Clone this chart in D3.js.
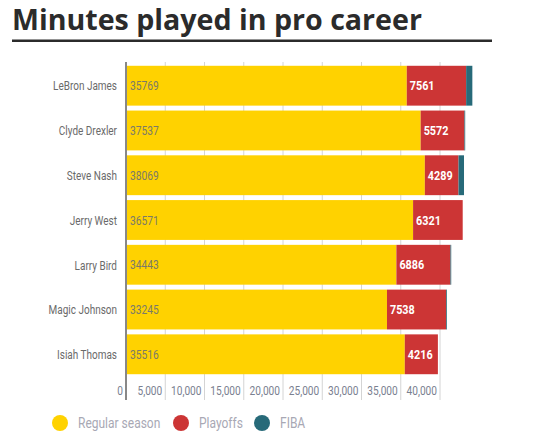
<!DOCTYPE html>
<html>
<head>
<meta charset="utf-8">
<script src="https://cdn.jsdelivr.net/npm/d3@7"></script>
<style>
  body { margin: 0; background: #fff; }
  .narrow { font-family: "Roboto", "Liberation Sans", sans-serif; }
</style>
</head>
<body>
<svg id="main-chart"></svg>
<script>
const players = ["LeBron James", "Clyde Drexler", "Steve Nash", "Jerry West", "Larry Bird", "Magic Johnson", "Isiah Thomas"];
const regularSeason = [35769, 37537, 38069, 36571, 34443, 33245, 35516];
const playoffs = [7561, 5572, 4289, 6321, 6886, 7538, 4216];
const fiba = [790, 100, 700, 0, 100, 100, 0];
const seriesNames = ["Regular season", "Playoffs", "FIBA"];
const seriesColors = ["#ffd200", "#cc3535", "#276a79"];
const xTicks = [0, 5000, 10000, 15000, 20000, 25000, 30000, 35000, 40000];

const width = 555, height = 440;
const rows = players.map((p, i) => ({name: p, "Regular season": regularSeason[i], "Playoffs": playoffs[i], "FIBA": fiba[i]}));

// no narrow font installed, so squeeze the glyphs horizontally
const narrow = (px, py, k) => `translate(${px},${py}) scale(${k},1)`;

const svg = d3.select("#main-chart")
    .attr("width", width)
    .attr("height", height);

// title
const title = svg.append("text")
    .attr("x", 12)
    .attr("y", 30)
    .attr("font-family", "Open Sans, sans-serif")
    .attr("font-weight", "bold")
    .attr("font-size", 34)
    .attr("fill", "#2b2b2b")
    .text("Minutes played in pro career");
const tw = title.node().getComputedTextLength();
title.attr("font-size", 34 * 410 / tw);

svg.append("rect")
    .attr("x", 12).attr("y", 39.5)
    .attr("width", 480).attr("height", 2.5)
    .attr("fill", "#2b2b2b");

const x = d3.scaleLinear().domain([0, 40000]).range([126, 440]);
const y = d3.scaleBand().domain(players).range([64, 376]).paddingInner(0.11).paddingOuter(0.04);

// grid
svg.append("g")
  .selectAll("line")
  .data(xTicks.slice(1))
  .join("line")
    .attr("x1", d => x(d)).attr("x2", d => x(d))
    .attr("y1", 62).attr("y2", 400)
    .attr("stroke", "#d4d4d4");

const stack = d3.stack().keys(seriesNames)(rows);

svg.append("g")
  .selectAll("g")
  .data(stack)
  .join("g")
    .attr("fill", (d, i) => seriesColors[i])
  .selectAll("rect")
  .data(d => d)
  .join("rect")
    .attr("x", d => x(d[0]))
    .attr("y", d => y(d.data.name))
    .attr("width", d => x(d[1]) - x(d[0]))
    .attr("height", y.bandwidth());

// axis line
svg.append("line")
    .attr("x1", 126).attr("x2", 126)
    .attr("y1", 62).attr("y2", 400)
    .attr("stroke", "#888")
    .attr("stroke-width", 2);

// category labels
svg.append("g")
    .attr("class", "narrow")
    .attr("font-size", 13.5)
    .attr("fill", "#6a6a6a")
    .attr("text-anchor", "end")
  .selectAll("text")
  .data(players)
  .join("text")
    .attr("transform", d => narrow(117, y(d) + y.bandwidth() / 2, 0.74))
    .attr("dy", "0.35em")
    .text(d => d);

// value labels
svg.append("g")
    .attr("class", "narrow")
    .attr("font-size", 13.5)
    .attr("fill", "#7a7a6a")
  .selectAll("text")
  .data(rows)
  .join("text")
    .attr("transform", d => narrow(130, y(d.name) + y.bandwidth() / 2, 0.76))
    .attr("dy", "0.35em")
    .text(d => d["Regular season"]);

svg.append("g")
    .attr("class", "narrow")
    .attr("font-size", 13.5)
    .attr("font-weight", "bold")
    .attr("fill", "#fff")
  .selectAll("text")
  .data(rows)
  .join("text")
    .attr("transform", d => narrow(x(d["Regular season"]) + 3, y(d.name) + y.bandwidth() / 2, 0.8))
    .attr("dy", "0.35em")
    .text(d => d["Playoffs"]);

// tick labels
svg.append("g")
    .attr("class", "narrow")
    .attr("font-size", 13)
    .attr("fill", "#7a8090")
    .attr("text-anchor", "end")
  .selectAll("text")
  .data(xTicks)
  .join("text")
    .attr("transform", d => narrow(x(d) - 3, 395, 0.78))
    .text(d => d3.format(",")(d));

// legend
const legendX = [60, 181, 262];
const legend = svg.append("g")
    .attr("class", "narrow")
    .attr("font-size", 15)
    .attr("fill", "#a8a8b4")
  .selectAll("g")
  .data(seriesNames)
  .join("g")
    .attr("transform", (d, i) => `translate(${legendX[i]},423)`);
legend.append("circle")
    .attr("r", 8)
    .attr("fill", (d, i) => seriesColors[i]);
legend.append("text")
    .attr("transform", narrow(18, 0, 0.8))
    .attr("dy", "0.35em")
    .text(d => d);
</script>
</body>
</html>
